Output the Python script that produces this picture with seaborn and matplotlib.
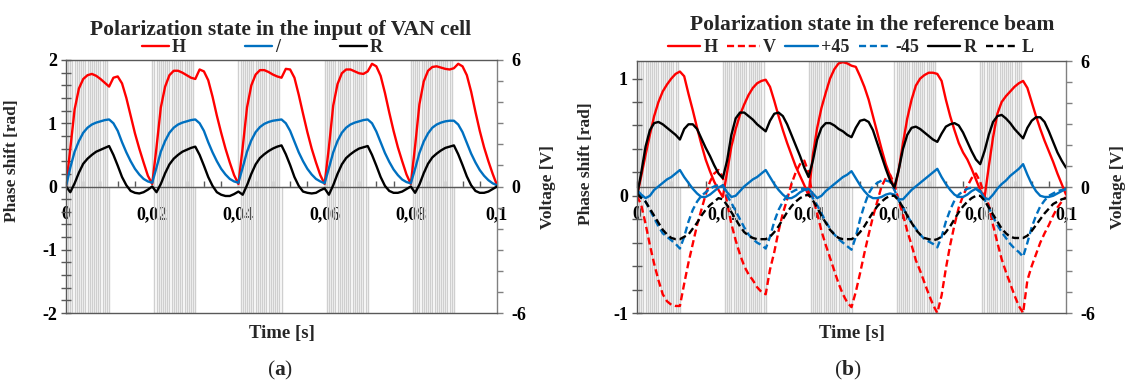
import numpy as np
import matplotlib
matplotlib.use("Agg")
import matplotlib.pyplot as plt
import seaborn as sns

sns.set_theme(style="white")
plt.rcParams["font.family"] = ["Liberation Serif", "DejaVu Serif"]
plt.rcParams["font.weight"] = "bold"
plt.rcParams["axes.labelweight"] = "bold"
plt.rcParams["mathtext.fontset"] = "custom"
plt.rcParams["mathtext.bf"] = "Liberation Serif:bold"
plt.rcParams["mathtext.rm"] = "Liberation Serif"

# ---------------- data ----------------
time_s = np.round(np.linspace(0.0, 0.1, 101), 3)

# (a) input of VAN cell
a_H = [0.00, 0.60, 1.22, 1.55, 1.70, 1.76, 1.78, 1.75, 1.70, 1.64, 1.58, 1.72, 1.74, 1.63, 1.40, 1.12, 0.84, 0.60, 0.38, 0.17, 0.04,
       0.62, 1.25, 1.58, 1.76, 1.83, 1.83, 1.80, 1.76, 1.72, 1.70, 1.85, 1.82, 1.68, 1.42, 1.12, 0.85, 0.60, 0.38, 0.18, 0.04,
       0.62, 1.25, 1.60, 1.77, 1.84, 1.84, 1.81, 1.77, 1.74, 1.72, 1.86, 1.85, 1.72, 1.45, 1.15, 0.86, 0.60, 0.38, 0.18, 0.04,
       0.62, 1.28, 1.62, 1.79, 1.85, 1.85, 1.82, 1.79, 1.78, 1.82, 1.94, 1.90, 1.75, 1.48, 1.17, 0.88, 0.62, 0.40, 0.19, 0.04,
       0.64, 1.30, 1.66, 1.83, 1.89, 1.90, 1.88, 1.86, 1.85, 1.87, 1.94, 1.90, 1.76, 1.50, 1.18, 0.88, 0.62, 0.40, 0.20, 0.02]
a_D = [0.00, 0.30, 0.55, 0.72, 0.85, 0.93, 0.98, 1.01, 1.03, 1.05, 1.06, 1.00, 0.88, 0.70, 0.54, 0.40, 0.28, 0.19, 0.12, 0.08, 0.06,
       0.30, 0.55, 0.72, 0.85, 0.93, 0.98, 1.01, 1.03, 1.05, 1.06, 1.00, 0.88, 0.70, 0.54, 0.40, 0.28, 0.19, 0.12, 0.08, 0.06,
       0.30, 0.55, 0.73, 0.86, 0.94, 0.99, 1.02, 1.04, 1.05, 1.06, 1.00, 0.88, 0.71, 0.54, 0.40, 0.28, 0.19, 0.12, 0.08, 0.05,
       0.29, 0.54, 0.72, 0.85, 0.93, 0.98, 1.01, 1.03, 1.05, 1.06, 1.00, 0.87, 0.70, 0.53, 0.39, 0.27, 0.18, 0.11, 0.07, 0.05,
       0.28, 0.53, 0.71, 0.84, 0.93, 0.98, 1.01, 1.03, 1.04, 1.04, 0.98, 0.86, 0.69, 0.52, 0.38, 0.26, 0.17, 0.10, 0.05, 0.02]
a_R = [0.00, -0.09, 0.05, 0.22, 0.36, 0.44, 0.50, 0.55, 0.58, 0.61, 0.64, 0.50, 0.33, 0.15, 0.02, -0.07, -0.10, -0.11, -0.09, -0.05, 0.00,
       -0.09, 0.04, 0.21, 0.35, 0.44, 0.50, 0.55, 0.58, 0.61, 0.63, 0.50, 0.33, 0.15, 0.01, -0.09, -0.13, -0.15, -0.15, -0.12, -0.08,
       -0.13, 0.02, 0.20, 0.35, 0.45, 0.51, 0.56, 0.60, 0.63, 0.65, 0.51, 0.34, 0.15, 0.01, -0.08, -0.10, -0.11, -0.10, -0.06, -0.03,
       -0.13, 0.02, 0.20, 0.35, 0.45, 0.51, 0.56, 0.60, 0.62, 0.64, 0.50, 0.33, 0.15, 0.01, -0.07, -0.10, -0.10, -0.08, -0.04, 0.00,
       -0.10, 0.03, 0.21, 0.36, 0.46, 0.52, 0.57, 0.61, 0.63, 0.65, 0.51, 0.34, 0.16, 0.02, -0.07, -0.10, -0.10, -0.08, -0.04, 0.00]

# (b) reference beam
b_H = [0.00, 0.17, 0.35, 0.52, 0.68, 0.80, 0.89, 0.95, 1.00, 1.04, 1.06, 1.02, 0.87, 0.73, 0.58, 0.44, 0.31, 0.21, 0.12, 0.05, -0.01,
       0.20, 0.42, 0.57, 0.69, 0.78, 0.86, 0.92, 0.96, 0.98, 0.99, 0.93, 0.81, 0.68, 0.56, 0.45, 0.35, 0.25, 0.17, 0.09, 0.00,
       0.35, 0.58, 0.75, 0.88, 1.00, 1.08, 1.13, 1.14, 1.13, 1.11, 1.10, 1.02, 0.93, 0.82, 0.68, 0.54, 0.40, 0.27, 0.17, 0.05,
       0.22, 0.45, 0.66, 0.82, 0.94, 1.00, 1.03, 1.05, 1.05, 1.04, 0.98, 0.82, 0.68, 0.56, 0.45, 0.37, 0.31, 0.23, 0.14, 0.05,
       -0.02, 0.25, 0.50, 0.70, 0.80, 0.85, 0.89, 0.93, 0.96, 0.98, 0.92, 0.80, 0.68, 0.57, 0.47, 0.38, 0.29, 0.19, 0.10, 0.01]
b_V = [0.00, -0.08, -0.24, -0.42, -0.58, -0.72, -0.84, -0.90, -0.93, -0.94, -0.94, -0.75, -0.57, -0.41, -0.25, -0.12, 0.01, 0.12, 0.19, 0.22, 0.16,
       -0.06, -0.24, -0.38, -0.50, -0.60, -0.67, -0.72, -0.78, -0.82, -0.84, -0.63, -0.48, -0.30, -0.15, -0.03, 0.10, 0.20, 0.27, 0.30, 0.20,
       -0.02, -0.15, -0.30, -0.42, -0.53, -0.64, -0.75, -0.84, -0.91, -0.95, -0.82, -0.66, -0.49, -0.33, -0.18, -0.05, 0.08, 0.15, 0.18, 0.10,
       -0.04, -0.16, -0.30, -0.42, -0.55, -0.64, -0.74, -0.84, -0.93, -1.00, -0.85, -0.62, -0.42, -0.25, -0.10, 0.00, 0.08, 0.15, 0.19, 0.12,
       0.00, -0.08, -0.25, -0.40, -0.54, -0.65, -0.75, -0.85, -0.94, -1.00, -0.72, -0.60, -0.50, -0.40, -0.32, -0.25, -0.17, -0.10, -0.05, -0.01]
b_P45 = [0.05, 0.01, -0.02, 0.00, 0.05, 0.08, 0.11, 0.14, 0.16, 0.19, 0.22, 0.16, 0.11, 0.06, 0.02, -0.01, -0.01, 0.01, 0.04, 0.07, 0.09,
         0.03, -0.01, 0.00, 0.04, 0.08, 0.11, 0.14, 0.16, 0.19, 0.22, 0.16, 0.10, 0.05, 0.01, -0.02, -0.02, 0.00, 0.03, 0.05, 0.06,
         0.02, -0.02, 0.00, 0.04, 0.07, 0.10, 0.13, 0.16, 0.18, 0.21, 0.15, 0.09, 0.04, 0.00, -0.02, -0.02, -0.01, 0.01, 0.02, 0.01,
         -0.03, -0.03, 0.01, 0.05, 0.08, 0.11, 0.14, 0.17, 0.20, 0.23, 0.16, 0.10, 0.05, 0.01, -0.01, -0.01, 0.01, 0.04, 0.06, 0.04,
         -0.02, -0.03, 0.01, 0.06, 0.10, 0.13, 0.17, 0.20, 0.23, 0.27, 0.18, 0.10, 0.04, 0.00, -0.01, -0.01, 0.00, 0.02, 0.04, 0.06]
b_M45 = [0.02, -0.01, -0.05, -0.12, -0.19, -0.26, -0.32, -0.35, -0.38, -0.41, -0.45, -0.35, -0.22, -0.12, -0.05, 0.00, 0.03, 0.06, 0.08, 0.09, 0.09,
         0.00, -0.06, -0.13, -0.20, -0.27, -0.33, -0.37, -0.40, -0.42, -0.45, -0.35, -0.22, -0.12, -0.05, 0.00, 0.03, 0.05, 0.06, 0.06, 0.04,
         -0.02, -0.08, -0.15, -0.22, -0.28, -0.33, -0.37, -0.40, -0.43, -0.46, -0.35, -0.20, -0.08, 0.02, 0.08, 0.11, 0.13, 0.13, 0.12, 0.05,
         -0.04, -0.10, -0.17, -0.23, -0.28, -0.33, -0.37, -0.39, -0.41, -0.44, -0.35, -0.22, -0.12, -0.04, 0.01, 0.04, 0.06, 0.07, 0.06, 0.03,
         -0.03, -0.10, -0.18, -0.25, -0.31, -0.36, -0.41, -0.45, -0.48, -0.52, -0.40, -0.27, -0.17, -0.09, -0.04, 0.00, 0.02, 0.04, 0.05, 0.05]
b_R = [0.00, 0.20, 0.42, 0.56, 0.62, 0.63, 0.61, 0.58, 0.55, 0.52, 0.48, 0.57, 0.61, 0.61, 0.57, 0.49, 0.41, 0.34, 0.26, 0.19, 0.15,
       0.30, 0.52, 0.66, 0.71, 0.71, 0.68, 0.65, 0.61, 0.58, 0.55, 0.64, 0.70, 0.71, 0.68, 0.61, 0.52, 0.43, 0.34, 0.24, 0.16,
       0.30, 0.48, 0.58, 0.62, 0.62, 0.60, 0.57, 0.55, 0.52, 0.50, 0.58, 0.64, 0.65, 0.63, 0.56, 0.45, 0.34, 0.23, 0.13, 0.07,
       0.22, 0.40, 0.52, 0.58, 0.59, 0.57, 0.54, 0.51, 0.48, 0.46, 0.53, 0.59, 0.61, 0.62, 0.60, 0.54, 0.46, 0.38, 0.31, 0.27,
       0.38, 0.52, 0.63, 0.68, 0.69, 0.66, 0.62, 0.57, 0.53, 0.49, 0.58, 0.64, 0.67, 0.67, 0.63, 0.55, 0.46, 0.37, 0.30, 0.24]
b_L = [0.02, -0.02, -0.05, -0.11, -0.17, -0.23, -0.29, -0.33, -0.36, -0.37, -0.37, -0.35, -0.33, -0.28, -0.23, -0.17, -0.12, -0.08, -0.05, -0.02, -0.03,
       -0.08, -0.14, -0.20, -0.26, -0.31, -0.34, -0.36, -0.37, -0.37, -0.37, -0.35, -0.31, -0.26, -0.20, -0.14, -0.09, -0.05, -0.02, 0.00, 0.01,
       -0.04, -0.10, -0.17, -0.23, -0.29, -0.33, -0.36, -0.37, -0.37, -0.37, -0.35, -0.31, -0.26, -0.20, -0.14, -0.09, -0.05, -0.02, 0.00, 0.00,
       -0.04, -0.10, -0.17, -0.23, -0.29, -0.33, -0.36, -0.37, -0.38, -0.37, -0.35, -0.31, -0.26, -0.20, -0.14, -0.09, -0.05, -0.02, 0.00, 0.00,
       -0.04, -0.10, -0.16, -0.22, -0.28, -0.32, -0.35, -0.36, -0.36, -0.36, -0.34, -0.30, -0.25, -0.20, -0.15, -0.11, -0.07, -0.05, -0.03, -0.02]

# drive voltage: bursts of a +/-6 V square carrier in the first half of every 20 ms
pulse_starts_s = [0.0, 0.02, 0.04, 0.06, 0.08]
pulse_width_s = 0.01
carrier_half_period_s = 0.0005
drive_amplitude_V = 6.0

x_tick_values = [0.0, 0.02, 0.04, 0.06, 0.08, 0.1]
x_tick_labels = ["0", "0,02", "0,04", "0,06", "0,08", "0,1"]

RED, BLUE, BLACK = "#ff0000", "#0070c0", "#000000"
STRIPE = "#cfcfcf"
SPINE = "#595959"


def drive_signal():
    vt, vv = [], []
    for s in pulse_starts_s:
        edges = np.arange(s, s + pulse_width_s + 1e-9, carrier_half_period_s)
        vt.append(s); vv.append(0.0)
        level = drive_amplitude_V
        for i in range(len(edges) - 1):
            vt += [edges[i], edges[i + 1]]
            vv += [level, level]
            level = -level
        vt.append(s + pulse_width_s); vv.append(0.0)
    vt.append(0.1); vv.append(0.0)
    return vt, vv


fig = plt.figure(figsize=(11.26, 3.83), dpi=100)
W, H = 1126.0, 383.0
TICK_FS = 13
LABEL_FS = 12.5


def make_panel(px_left, px_right, px_top, px_bottom, ylim, ystep, ylab_px, vlab_px):
    ax = fig.add_axes([px_left / W, 1 - px_bottom / H, (px_right - px_left) / W, (px_bottom - px_top) / H])
    ax2 = ax.twinx()
    ax.set_zorder(ax2.get_zorder() + 1)
    ax.patch.set_visible(False)

    vt, vv = drive_signal()
    sns.lineplot(x=vt, y=vv, ax=ax2, sort=False, estimator=None, color=STRIPE, lw=1.0, legend=False)

    ax.set_xlim(0, 0.1)
    ax.set_ylim(*ylim)
    ax2.set_ylim(-6, 6)

    yt = np.round(np.arange(ylim[0], 1.0001 if ylim[1] < 2 else 2.0001, ystep), 1)
    ax.set_yticks(yt)
    ax.set_yticklabels([str(int(round(v))) if abs(v - round(v)) < 1e-6 else "" for v in yt])
    ax.tick_params(axis="y", direction="inout", length=7, width=1.0, color=SPINE,
                   labelsize=TICK_FS, labelcolor="black", pad=3)
    ax.tick_params(axis="x", bottom=False, labelbottom=False, top=False)

    vtk = list(range(-6, 7))
    ax2.set_yticks(vtk)
    ax2.set_yticklabels([str(v) if v in (-6, 0, 6) else "" for v in vtk])
    ax2.tick_params(axis="y", direction="out", length=4, width=1.0, color="#808080",
                    labelsize=TICK_FS, labelcolor="black", pad=6)

    ax2.xaxis.set_visible(True)
    ax2.spines["bottom"].set_position(("data", 0))
    ax2.set_xticks(x_tick_values)
    ax2.set_xticklabels(x_tick_labels)
    ax2.set_xticks(np.round(np.arange(0, 0.1001, 0.004), 3), minor=True)
    ax2.tick_params(axis="x", which="both", direction="in", length=4, width=1.0, color=SPINE,
                    bottom=True, top=False, labelsize=TICK_FS, labelcolor="black", pad=14)
    ax2.set_xlim(0, 0.1)

    for sp in ["left", "bottom", "top"]:
        ax.spines[sp].set_color(SPINE); ax.spines[sp].set_linewidth(1.0)
    ax.spines["right"].set_visible(False)
    for sp in ["left", "top"]:
        ax2.spines[sp].set_visible(False)
    ax2.spines["right"].set_color("#808080"); ax2.spines["right"].set_linewidth(1.0)
    ax2.spines["bottom"].set_color(SPINE); ax2.spines["bottom"].set_linewidth(1.0)

    width = px_right - px_left
    height = px_bottom - px_top
    ax.set_ylabel("Phase shift [rad]", fontsize=LABEL_FS)
    ax.yaxis.set_label_coords((ylab_px[0] - px_left) / width, (px_bottom - ylab_px[1]) / height)
    ax2.set_ylabel("Voltage [V]", fontsize=LABEL_FS)
    ax2.yaxis.set_label_coords((vlab_px[0] - px_left) / width, (px_bottom - vlab_px[1]) / height)
    ax.set_xlabel("Time [s]", fontsize=13.5, labelpad=1)
    ax.grid(False); ax2.grid(False)
    return ax, ax2


def draw(ax, y, color, label, dashed=False):
    ls = (0, (3.0, 1.6)) if dashed else "-"
    sns.lineplot(x=time_s, y=y, ax=ax, color=color, lw=1.7, linestyle=ls, label=label,
                 legend=False, sort=False, estimator=None)
    return ax.lines[-1]


# ---------- panel (a) ----------
axA, axA2 = make_panel(66, 497, 60, 313, (-2, 2), 0.2, (20, 161), (540, 187))
hA = [draw(axA, a_H, RED, "H"), draw(axA, a_D, BLUE, "/"), draw(axA, a_R, BLACK, "R")]
fig.legend(hA, [h.get_label() for h in hA], loc="center", bbox_to_anchor=(262 / W, 1 - 48 / H),
           ncol=3, frameon=False, handlelength=1.5, handletextpad=0.15,
           columnspacing=3.3, borderpad=0, prop={"weight": "bold", "size": 13})
fig.text(281 / W, 1 - 30 / H, "Polarization state in the input of VAN cell", ha="center", va="center",
         fontsize=15.5, fontweight="bold")
fig.text(280 / W, 1 - 370 / H, r"($\mathbf{a}$)", ha="center", va="center", fontsize=15.5, fontweight="normal")

# ---------- panel (b) ----------
axB, axB2 = make_panel(637, 1066, 61, 313, (-1, 1.15), 0.2, (594, 164), (1110, 187))
hB = [draw(axB, b_H, RED, "H"), draw(axB, b_V, RED, "V", True),
      draw(axB, b_P45, BLUE, "+45"), draw(axB, b_M45, BLUE, "-45", True),
      draw(axB, b_R, BLACK, "R"), draw(axB, b_L, BLACK, "L", True)]
fig.legend(hB, [h.get_label() for h in hB], loc="center", bbox_to_anchor=(851 / W, 1 - 48 / H),
           ncol=6, frameon=False, handlelength=1.8, handletextpad=0.2,
           columnspacing=0.5, borderpad=0, prop={"weight": "bold", "size": 13})
fig.text(872 / W, 1 - 25 / H, "Polarization state in the reference beam", ha="center", va="center",
         fontsize=15.5, fontweight="bold")
fig.text(848 / W, 1 - 370 / H, r"($\mathbf{b}$)", ha="center", va="center", fontsize=15.5, fontweight="normal")

fig.savefig("out.png", dpi=100)
